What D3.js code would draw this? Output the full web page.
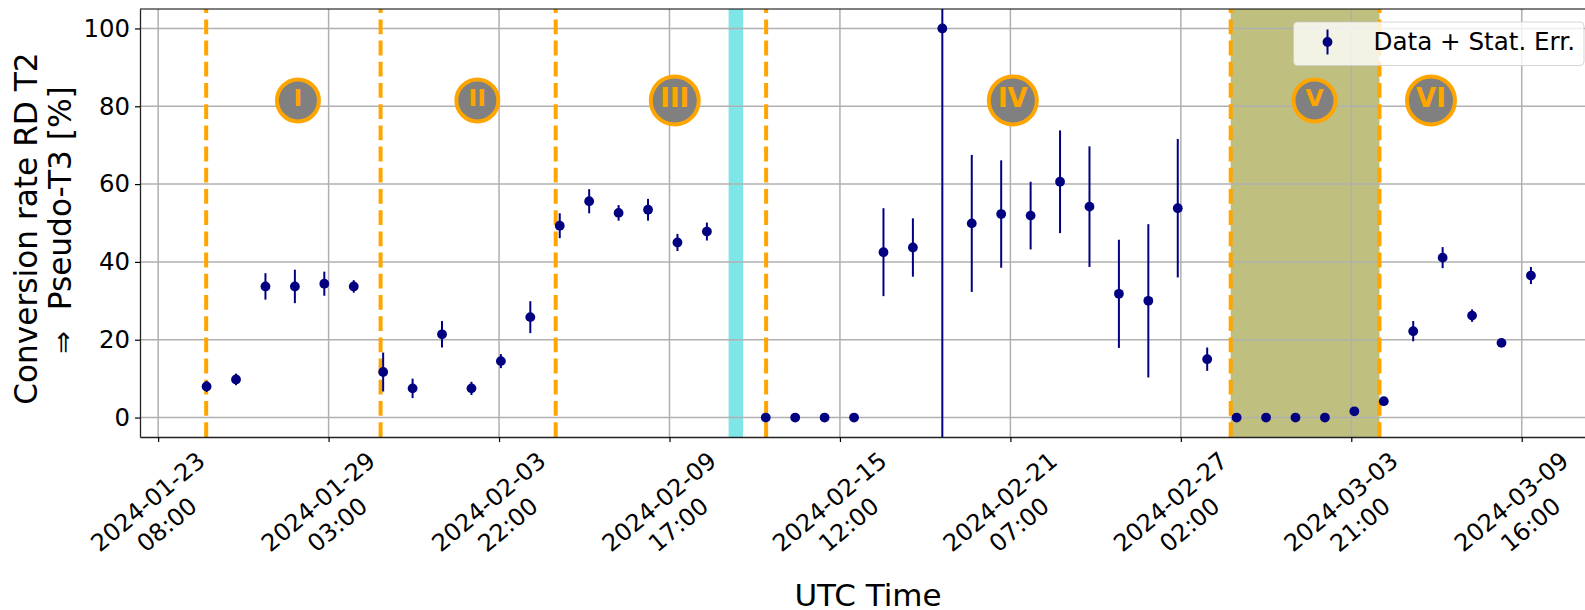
<!DOCTYPE html>
<html>
<head>
<meta charset="utf-8">
<script src="https://cdn.jsdelivr.net/npm/d3@7"></script>
<style>
  html, body { margin: 0; padding: 0; background: #fff; overflow: hidden; }
  svg { display: block; }
  text { font-family: 'DejaVu Sans', sans-serif; fill: #000; }
</style>
</head>
<body>
<svg width="1585" height="610"></svg>
<script>
const dates = [
  '2024-01-24', '2024-01-25', '2024-01-26', '2024-01-27', '2024-01-28', '2024-01-29',
  '2024-01-30', '2024-01-31', '2024-02-01', '2024-02-02', '2024-02-03', '2024-02-04',
  '2024-02-05', '2024-02-06', '2024-02-07', '2024-02-08', '2024-02-09', '2024-02-10',
  '2024-02-12', '2024-02-13', '2024-02-14', '2024-02-15', '2024-02-16', '2024-02-17',
  '2024-02-18', '2024-02-19', '2024-02-20', '2024-02-21', '2024-02-22', '2024-02-23',
  '2024-02-24', '2024-02-25', '2024-02-26', '2024-02-27', '2024-02-28', '2024-02-29',
  '2024-03-01', '2024-03-02', '2024-03-03', '2024-03-04', '2024-03-05', '2024-03-06',
  '2024-03-07', '2024-03-08', '2024-03-09'
];
const rates = [
  8, 9.8, 33.7, 33.7, 34.4, 33.7,
  11.7, 7.5, 21.4, 7.5, 14.5, 25.8,
  49.3, 55.6, 52.6, 53.4, 45, 47.8,
  0, 0, 0, 0, 42.5, 43.7,
  100, 49.9, 52.3, 51.9, 60.6, 54.2,
  31.8, 30, 53.8, 15, 0, 0,
  0, 0, 1.6, 4.2, 22.2, 41.1,
  26.2, 19.2, 36.5
];
const errors = [
  1.4, 1.5, 3.4, 4.3, 3.1, 1.6,
  5, 2.5, 3.4, 1.7, 1.8, 4.1,
  3.2, 3.1, 2, 2.8, 2.2, 2.3,
  0, 0, 0, 0, 11.3, 7.5,
  110, 17.6, 13.8, 8.7, 13.2, 15.5,
  13.9, 19.7, 17.8, 3, 0, 0,
  0, 0, 0, 0, 2.6, 2.7,
  1.6, 0.7, 2.2
];

const tickTimes = [
  '2024-01-23T08:00Z', '2024-01-29T03:00Z', '2024-02-03T22:00Z',
  '2024-02-09T17:00Z', '2024-02-15T12:00Z', '2024-02-21T07:00Z',
  '2024-02-27T02:00Z', '2024-03-03T21:00Z', '2024-03-09T16:00Z'
];
const yTicks = [0, 20, 40, 60, 80, 100];

const periodEdges = [
  '2024-01-24T23:10Z', '2024-01-30T21:24Z', '2024-02-05T20:12Z',
  '2024-02-12T23:48Z', '2024-02-28T18:40Z', '2024-03-04T20:00Z'
];
const periodNames = ['I', 'II', 'III', 'IV', 'V', 'VI'];
const periodCentres = [
  '2024-01-28T02:00Z', '2024-02-03T04:18Z', '2024-02-09T21:18Z',
  '2024-02-21T09:00Z', '2024-03-02T15:00Z', '2024-03-06T14:00Z'
];
const cyanBand = ['2024-02-11T17:12Z', '2024-02-12T05:00Z'];
const oliveBand = ['2024-02-28T18:40Z', '2024-03-04T20:00Z'];

const svg = d3.select('svg');
const margin = { top: 9, right: 0, bottom: 173, left: 140 };
const width = +svg.attr('width') - margin.left - margin.right;
const height = +svg.attr('height') - margin.top - margin.bottom;

const x = d3.scaleUtc()
  .domain([new Date('2024-01-22T17:12Z'), new Date('2024-03-11T19:36Z')])
  .range([0, width]);
const y = d3.scaleLinear().domain([-5, 105]).range([height, 0]);

svg.append('defs').append('clipPath').attr('id', 'plot')
  .append('rect').attr('width', width).attr('height', height);

const g = svg.append('g')
  .attr('transform', 'translate(' + margin.left + ',' + margin.top + ')');

function setBands() {
  const band = function (range, color) {
    g.append('rect')
      .attr('x', x(new Date(range[0])))
      .attr('width', x(new Date(range[1])) - x(new Date(range[0])))
      .attr('y', 0)
      .attr('height', height)
      .attr('fill', color)
      .attr('fill-opacity', 0.5);
  };
  band(cyanBand, '#00ced1');
  band(oliveBand, '#808000');
}

function setGrid() {
  const grid = g.append('g').attr('class', 'grid');
  grid.selectAll('.gx').data(tickTimes).enter().append('line')
    .attr('x1', d => x(new Date(d))).attr('x2', d => x(new Date(d)))
    .attr('y1', 0).attr('y2', height);
  grid.selectAll('.gy').data(yTicks).enter().append('line')
    .attr('x1', 0).attr('x2', width)
    .attr('y1', d => y(d)).attr('y2', d => y(d));
  grid.selectAll('line').attr('stroke', '#b0b0b0').attr('stroke-width', 1.5);
}

function setEdges() {
  g.append('g').selectAll('line').data(periodEdges).enter().append('line')
    .attr('x1', d => x(new Date(d))).attr('x2', d => x(new Date(d)))
    .attr('y1', height).attr('y2', 0)
    .attr('stroke', '#ffa500')
    .attr('stroke-width', 4)
    .attr('stroke-dasharray', '14.8 6.4');
}

function setData() {
  const rows = dates.map((d, i) => ({
    time: new Date(d + 'T23:30Z'),
    rate: rates[i],
    err: errors[i]
  }));
  const data = g.append('g').attr('clip-path', 'url(#plot)');
  data.selectAll('line').data(rows.filter(d => d.err > 0)).enter().append('line')
    .attr('x1', d => x(d.time)).attr('x2', d => x(d.time))
    .attr('y1', d => y(d.rate - d.err)).attr('y2', d => y(d.rate + d.err))
    .attr('stroke', '#000080')
    .attr('stroke-width', 2);
  data.selectAll('circle').data(rows).enter().append('circle')
    .attr('cx', d => x(d.time))
    .attr('cy', d => y(d.rate))
    .attr('r', 4.9)
    .attr('fill', '#000080');
}

function setBadges() {
  const big = d => d.length > 1 && d !== 'II';
  const badge = g.append('g').selectAll('g').data(periodNames).enter().append('g')
    .attr('transform', (d, i) => 'translate(' + x(new Date(periodCentres[i])) + ',' + y(81.5) + ')');
  badge.append('circle')
    .attr('r', d => (big(d) ? 24 : 21))
    .attr('fill', '#808080')
    .attr('stroke', '#ffa500')
    .attr('stroke-width', 4);
  badge.append('text')
    .attr('text-anchor', 'middle')
    .attr('y', d => (big(d) ? 7 : 6))
    .style('font-size', d => (big(d) ? '26px' : '23.5px'))
    .style('font-weight', 'bold')
    .style('fill', '#ffa500')
    .text(d => d);
}

function setAxes() {
  const xAxis = g.append('g')
    .attr('transform', 'translate(0,' + height + ')')
    .call(d3.axisBottom(x)
      .tickValues(tickTimes.map(d => new Date(d)))
      .tickSize(5).tickSizeOuter(0).tickFormat(''));
  xAxis.selectAll('.tick text').remove();
  xAxis.selectAll('.tick').each(function (d, i) {
    const parts = tickTimes[i].replace('Z', '').split('T');
    const label = d3.select(this).append('text')
      .attr('transform', 'translate(-11.1,64.5) rotate(-40)')
      .attr('text-anchor', 'middle')
      .style('font-size', '24px');
    label.append('tspan').attr('x', 0).attr('y', 8.75).text(parts[0]);
    label.append('tspan').attr('x', 0).attr('y', 38.5).text(parts[1]);
  });

  const yAxis = g.append('g')
    .call(d3.axisLeft(y).tickValues(yTicks).tickSize(5).tickSizeOuter(0).tickPadding(5));
  yAxis.selectAll('text').style('font-size', '24.4px');

  [xAxis, yAxis].forEach(a => {
    a.select('.domain').attr('stroke', '#222').attr('stroke-width', 1.3);
    a.selectAll('.tick line').attr('stroke', '#000').attr('stroke-width', 1.2);
  });

  g.append('line').attr('x1', 0).attr('x2', width).attr('y1', 0).attr('y2', 0)
    .attr('stroke', '#000').attr('stroke-width', 1.2);

  svg.append('text')
    .attr('x', 868).attr('y', 606)
    .attr('text-anchor', 'middle')
    .style('font-size', '31px')
    .text('UTC Time');

  const yLabel = svg.append('g').attr('transform', 'translate(0,225) rotate(-90)');
  yLabel.append('text')
    .attr('x', -3.6).attr('y', 37)
    .attr('text-anchor', 'middle')
    .style('font-size', '31.2px')
    .text('Conversion rate RD T2');
  yLabel.append('text')
    .attr('x', 26.7).attr('y', 71)
    .attr('text-anchor', 'middle')
    .style('font-size', '31.2px')
    .text('Pseudo-T3 [%]');
  yLabel.append('text')
    .attr('x', -117.5).attr('y', 72)
    .attr('text-anchor', 'middle')
    .style('font-size', '27px')
    .text('\u21d2');
}

function setLegend() {
  const legend = svg.append('g').attr('transform', 'translate(1293.5,22)');
  legend.append('rect')
    .attr('width', 290.5)
    .attr('height', 43.5)
    .attr('rx', 4)
    .attr('fill', '#fff')
    .attr('fill-opacity', 0.8)
    .attr('stroke', '#ccc')
    .attr('stroke-opacity', 0.8);
  legend.append('line')
    .attr('x1', 34).attr('x2', 34).attr('y1', 7.5).attr('y2', 32.5)
    .attr('stroke', '#000080').attr('stroke-width', 2);
  legend.append('circle')
    .attr('cx', 34).attr('cy', 20).attr('r', 4.9).attr('fill', '#000080');
  legend.append('text')
    .attr('x', 80).attr('y', 28)
    .style('font-size', '24.6px')
    .text('Data + Stat. Err.');
}

setBands();
setGrid();
setEdges();
setData();
setBadges();
setAxes();
setLegend();
</script>
</body>
</html>
